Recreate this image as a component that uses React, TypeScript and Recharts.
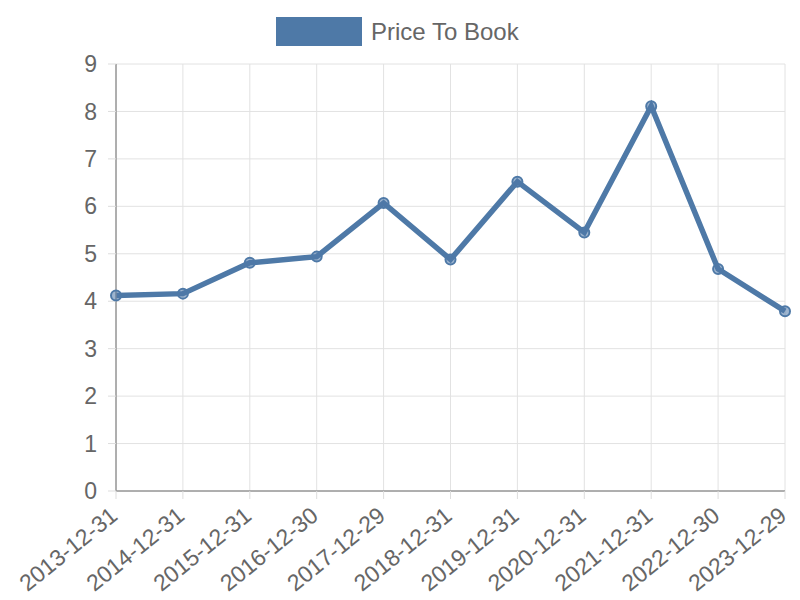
import { LineChart, Line, XAxis, YAxis, CartesianGrid } from "recharts";

const dates = [
  "2013-12-31",
  "2014-12-31",
  "2015-12-31",
  "2016-12-30",
  "2017-12-29",
  "2018-12-31",
  "2019-12-31",
  "2020-12-31",
  "2021-12-31",
  "2022-12-30",
  "2023-12-29",
];

const priceToBook = [4.12, 4.16, 4.81, 4.94, 6.07, 4.88, 6.52, 5.45, 8.11, 4.68, 3.79];

const yTicks = [0, 1, 2, 3, 4, 5, 6, 7, 8, 9];

const data = dates.map((d, i) => ({ date: d, value: priceToBook[i] }));

const LINE_COLOR = "#4e79a7";
const FONT = "'Liberation Sans', Arial, sans-serif";

// rotated date labels, pivot at the end of the text just under the tick
function DateTick({ x, y, payload }: any) {
  const px = x - 2;
  const py = y + 11;
  return (
    <text
      x={px}
      y={py}
      transform={`rotate(-39, ${px}, ${py})`}
      textAnchor="end"
      dominantBaseline="central"
      fill="#666"
      fontSize={23}
      fontFamily={FONT}
    >
      {payload.value}
    </text>
  );
}

export default function App() {
  return (
    <div style={{ position: "absolute", left: 0, top: 0, width: 800, height: 600, background: "#fff" }}>
      {/* legend */}
      <div style={{ position: "absolute", left: 276, top: 17, display: "flex", alignItems: "center" }}>
        <div style={{ width: 86, height: 29, background: LINE_COLOR }} />
        <span style={{ marginLeft: 9, fontSize: 24, color: "#666", fontFamily: FONT }}>Price To Book</span>
      </div>
      <LineChart
        width={800}
        height={600}
        data={data}
        margin={{ top: 64, right: 15, bottom: 0, left: 0 }}
      >
        <CartesianGrid stroke="#e2e2e2" strokeWidth={1} />
        <XAxis
          dataKey="date"
          interval={0}
          tick={<DateTick />}
          tickSize={8}
          tickLine={{ stroke: "#ddd" }}
          axisLine={{ stroke: "#999", strokeWidth: 1.5 }}
          height={109}
        />
        <YAxis
          domain={[0, 9]}
          ticks={yTicks}
          interval={0}
          width={116}
          tickSize={8}
          tickMargin={11}
          tickLine={{ stroke: "#ddd" }}
          axisLine={{ stroke: "#999", strokeWidth: 1.5 }}
          tick={{ fill: "#666", fontSize: 23, fontFamily: FONT }}
        />
        <Line
          type="linear"
          dataKey="value"
          stroke={LINE_COLOR}
          strokeWidth={5.5}
          dot={{ r: 5, fill: "rgba(78,121,167,0.55)", stroke: LINE_COLOR, strokeWidth: 2 }}
          activeDot={false}
          isAnimationActive={false}
        />
      </LineChart>
    </div>
  );
}
